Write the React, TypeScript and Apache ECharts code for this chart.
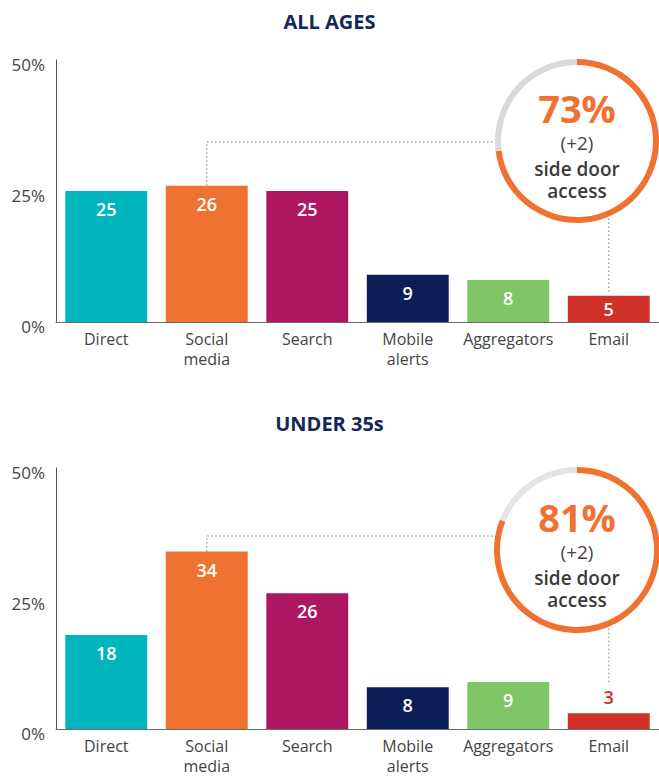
import React, { useEffect, useRef } from 'react';
import * as echarts from 'echarts';

const categories = ['Direct', 'Social\nmedia', 'Search', 'Mobile\nalerts', 'Aggregators', 'Email'];
const allAges = [25, 26, 25, 9, 8, 5];
const under35 = [18, 34, 26, 8, 9, 3];
const barColors = ['#00b5bd', '#f07230', '#ad1762', '#0b1f56', '#80c566', '#cf3127'];
const panelTitles = ['ALL AGES', 'UNDER 35s'];
const sideDoorShare = [73, 81];
const sideDoorChange = ['(+2)', '(+2)'];
const yMax = 50;
const yInterval = 25;

const FONT = '"Open Sans", "Noto Sans", sans-serif';
const ORANGE = '#f07230';
const W = 659;
const H = 776;

const grids = [
  { left: 56, width: 603, top: 60, height: 262 },
  { left: 56, width: 603, top: 468, height: 262 },
];
const donuts = [
  { cx: 577, cy: 141, r: 82, linkDy: 1 },
  { cx: 577, cy: 550, r: 83, linkDy: -14 },
];

function barData(values: number[]) {
  return values.map((v, i) => {
    const item: any = { value: v, itemStyle: { color: barColors[i] } };
    if (v < 4) {
      item.label = { position: 'top', distance: 7, color: barColors[i] };
    } else if (v < 7) {
      item.label = { position: 'inside' };
    }
    return item;
  });
}

export default function App() {
  const ref = useRef<HTMLDivElement>(null);
  useEffect(() => {
    if (!ref.current) return;
    const chart = echarts.init(ref.current, null, { renderer: 'svg' });
    const panels = [allAges, under35];

    const option: any = {
      animation: false,
      textStyle: { fontFamily: FONT },
      title: panelTitles.map((t, i) => ({
        text: t,
        left: 'center',
        top: i === 0 ? 6 : 408,
        textStyle: { fontFamily: FONT, fontSize: 20, fontWeight: 'bold', color: '#12275a' },
      })),
      grid: grids,
      xAxis: grids.map((_, i) => ({
        type: 'category',
        gridIndex: i,
        data: categories,
        axisTick: { show: false },
        axisLine: { show: true, lineStyle: { color: '#6a6a6a', width: 1 } },
        axisLabel: { color: '#444', fontSize: 16, lineHeight: 20, margin: 7, fontFamily: FONT, interval: 0 },
      })),
      yAxis: grids.map((_, i) => ({
        type: 'value',
        gridIndex: i,
        min: 0,
        max: yMax,
        interval: yInterval,
        splitLine: { show: false },
        axisTick: { show: false },
        axisLine: { show: true, lineStyle: { color: '#555', width: 1 } },
        axisLabel: {
          formatter: (v: number) => `{v|${v}%}`,
          margin: 11,
          rich: {
            v: { color: '#444', fontSize: 17, fontFamily: FONT, padding: [9, 0, 0, 0] },
          },
        },
      })),
      series: [
        ...panels.map((vals, i) => ({
          type: 'bar',
          xAxisIndex: i,
          yAxisIndex: i,
          barWidth: '81.5%',
          data: barData(vals),
          label: {
            show: true,
            position: 'insideTop',
            distance: 9,
            color: '#fff',
            fontSize: 18,
            fontWeight: 600,
            fontFamily: FONT,
          },
          silent: true,
        })),
        ...sideDoorShare.map((share, i) => ({
          type: 'pie',
          center: [donuts[i].cx, donuts[i].cy],
          radius: [donuts[i].r - 6, donuts[i].r],
          startAngle: 90,
          clockwise: true,
          silent: true,
          emphasis: { disabled: true },
          labelLine: { show: false },
          data: [
            {
              value: share,
              itemStyle: { color: ORANGE },
              label: {
                show: true,
                position: 'center',
                padding: [8, 0, 0, 0],
                formatter: () => `{a|${share}%}\n{b|${sideDoorChange[i]}}\n{c|side door}\n{d|access}`,
                rich: {
                  a: { fontSize: 38, fontWeight: 'bold', color: ORANGE, lineHeight: 40, fontFamily: FONT },
                  b: { fontSize: 19, color: '#444', lineHeight: 30, fontFamily: FONT },
                  c: { fontSize: 19, fontWeight: 600, color: '#3a3a3a', lineHeight: 22, fontFamily: FONT },
                  d: { fontSize: 19, fontWeight: 600, color: '#3a3a3a', lineHeight: 22, fontFamily: FONT },
                },
              },
            },
            {
              value: 100 - share,
              itemStyle: { color: i === 0 ? '#d9d9d9' : '#e4e4e4' },
              label: { show: false },
            },
          ],
        })),
      ],
    };
    chart.setOption(option);

    const graphics: any[] = [];
    const dotted = { stroke: '#a8a8a8', lineWidth: 1.5, lineDash: [1.5, 2.5], fill: null };
    panels.forEach((vals, i) => {
      const d = donuts[i];
      const s = chart.convertToPixel({ xAxisIndex: i, yAxisIndex: i }, [1, vals[1]]) as number[];
      const e = chart.convertToPixel({ xAxisIndex: i, yAxisIndex: i }, [5, vals[5]]) as number[];
      const ly = d.cy + d.linkDy;
      const lx = d.cx - Math.sqrt(d.r * d.r - d.linkDy * d.linkDy);
      graphics.push({
        type: 'polyline',
        silent: true,
        shape: { points: [[s[0], s[1]], [s[0], ly], [lx, ly]] },
        style: dotted,
      });
      const dx = e[0] - d.cx;
      const by = d.cy + Math.sqrt(d.r * d.r - dx * dx) + 2;
      const endY = vals[5] < 4 ? e[1] - 30 : e[1] - 4;
      graphics.push({
        type: 'line',
        silent: true,
        shape: { x1: e[0], y1: by, x2: e[0], y2: endY },
        style: dotted,
      });
    });
    chart.setOption({ graphic: graphics });

    return () => chart.dispose();
  }, []);
  return <div ref={ref} style={{ position: 'absolute', left: 0, top: 0, width: W, height: H }} />;
}
